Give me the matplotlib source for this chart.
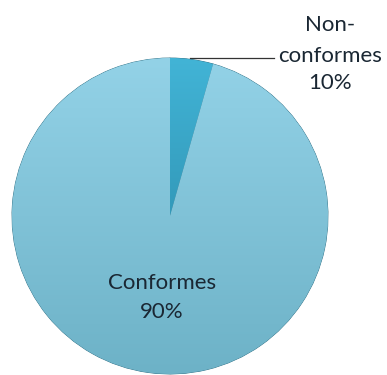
import numpy as np
import matplotlib
matplotlib.use('Agg')
import matplotlib.pyplot as plt
from matplotlib.colors import LinearSegmentedColormap

# Data (slice sizes as drawn, labels as printed on the chart)
categories = ['Non-\nconformes', 'Conformes']
values = [4.4, 95.6]
pct_labels = ['10%', '90%']
colors = ['#3aa6c4', '#8ccde3']

plt.rcParams['font.family'] = ['Lato', 'DejaVu Sans']

fig = plt.figure(figsize=(3.87, 3.75), dpi=100)
ax = fig.add_axes([0, 0, 1, 1])

cx, cy, r = 170, 159, 158
wedges, _ = ax.pie(values, colors=colors, startangle=90, counterclock=False,
                   center=(cx, cy), radius=r, frame=True,
                   wedgeprops=dict(edgecolor='#2f6f84', linewidth=0.6))

# soft vertical shading on each wedge
grad = np.linspace(0, 1, 256).reshape(-1, 1)
cmaps = [LinearSegmentedColormap.from_list('s', ['#237f9e', '#42b4d6']),
         LinearSegmentedColormap.from_list('b', ['#6db2c7', '#93d2e7'])]
for w, cm in zip(wedges, cmaps):
    im = ax.imshow(grad, cmap=cm, origin='lower', aspect='auto',
                   extent=(cx - r, cx + r, cy - r, cy + r), zorder=w.get_zorder() + 0.1)
    im.set_clip_path(w)
ax.set_xlim(0, 387)
ax.set_ylim(0, 375)
ax.set_aspect('equal')
ax.axis('off')

# labels
txt = dict(ha='center', va='center', fontsize=16, color='#1a2733')
ax.text(162, 375 - 283, categories[1], **txt)
ax.text(162, 375 - 312, pct_labels[1], **txt)

line1, line2 = categories[0].split('\n')
ax.text(330, 375 - 25, line1, **txt)
ax.text(330, 375 - 56, line2, **txt)
ax.text(330, 375 - 83, pct_labels[0], **txt)

# leader line
ax.plot([190, 274], [375 - 58, 375 - 58], color='#333333', linewidth=0.9)

fig.savefig('out.png', dpi=100)
